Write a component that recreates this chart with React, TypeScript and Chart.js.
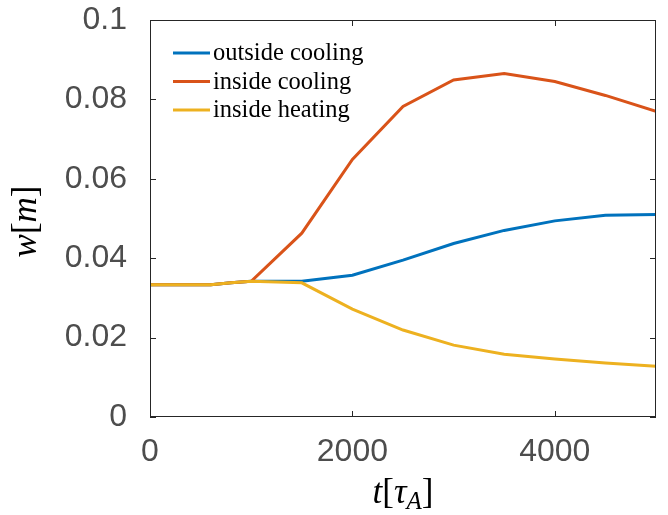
import React, { useEffect, useRef } from "react";
import { Chart, registerables } from "chart.js";

Chart.register(...registerables);

// ---- data ----
const tValues = [0, 600, 800, 1000, 1500, 2000, 2500, 3000, 3500, 4000, 4500, 5000];
const outsideCooling = [0.0333, 0.0333, 0.0338, 0.0342, 0.0342, 0.0357, 0.0395, 0.0437, 0.047, 0.0494, 0.0508, 0.051];
const insideCooling = [0.0333, 0.0333, 0.0338, 0.0342, 0.0463, 0.0649, 0.0782, 0.0849, 0.0865, 0.0845, 0.081, 0.077];
const insideHeating = [0.0333, 0.0333, 0.0338, 0.0342, 0.0338, 0.0272, 0.0219, 0.0181, 0.0158, 0.0146, 0.0136, 0.0128];
const seriesLabels = ["outside cooling", "inside cooling", "inside heating"];
const seriesColors = ["#0072BD", "#D95319", "#EDB120"];
const yTicks = [0, 0.02, 0.04, 0.06, 0.08, 0.1];
const xTicks = [0, 2000, 4000];
const xMin = 0, xMax = 5000, yMin = 0, yMax = 0.1;

const TICK_FONT = "'Liberation Sans', Arial, Helvetica, sans-serif";
const SERIF = "'Liberation Serif', 'Times New Roman', serif";
const AXIS_COLOR = "#262626";
const TICK_COLOR = "#4d4d4d";
const LINE_W = 3;

const decorPlugin = {
  id: "decor",
  afterDatasetsDraw(chart: any) {
    const { ctx, chartArea: a, scales } = chart;
    ctx.save();
    ctx.strokeStyle = AXIS_COLOR;
    ctx.lineWidth = 1;
    ctx.strokeRect(a.left + 0.5, a.top + 0.5, a.right - a.left - 1, a.bottom - a.top - 1);
    const tl = 6;
    ctx.beginPath();
    for (const v of yTicks) {
      const py = Math.round(scales.y.getPixelForValue(v)) + 0.5;
      ctx.moveTo(a.left, py); ctx.lineTo(a.left + tl, py);
      ctx.moveTo(a.right, py); ctx.lineTo(a.right - tl, py);
    }
    for (const v of xTicks) {
      const px = Math.round(scales.x.getPixelForValue(v)) + 0.5;
      ctx.moveTo(px, a.bottom); ctx.lineTo(px, a.bottom - tl);
      ctx.moveTo(px, a.top); ctx.lineTo(px, a.top + tl);
    }
    ctx.stroke();
    ctx.restore();
  },
  afterDraw(chart: any) {
    const { ctx, chartArea: a } = chart;
    ctx.save();
    // legend
    const lx = a.left + 23, lw = 37, tx = a.left + 63;
    const rows = [53, 81.5, 110];
    ctx.font = `24.5px ${SERIF}`;
    ctx.textBaseline = "middle";
    ctx.fillStyle = "#000";
    seriesLabels.forEach((lab, i) => {
      ctx.strokeStyle = seriesColors[i];
      ctx.lineWidth = LINE_W;
      ctx.beginPath();
      ctx.moveTo(lx, rows[i]);
      ctx.lineTo(lx + lw, rows[i]);
      ctx.stroke();
      ctx.fillText(lab, tx, rows[i] + 1);
    });

    // x axis title: t[τ_A]
    const fs = 35;
    const segs = [
      { t: "t", f: `italic ${fs}px ${SERIF}`, dy: 0 },
      { t: "[", f: `${fs}px ${SERIF}`, dy: 0 },
      { t: "τ", f: `italic ${fs}px ${SERIF}`, dy: 0 },
      { t: "A", f: `italic ${Math.round(fs * 0.7)}px ${SERIF}`, dy: fs * 0.16 },
      { t: "]", f: `${fs}px ${SERIF}`, dy: 0 },
    ];
    let total = 0;
    for (const s of segs) { ctx.font = s.f; total += ctx.measureText(s.t).width; }
    let x = (a.left + a.right) / 2 - total / 2;
    const base = 503;
    ctx.textBaseline = "alphabetic";
    ctx.textAlign = "left";
    ctx.fillStyle = "#000";
    for (const s of segs) {
      ctx.font = s.f;
      ctx.fillText(s.t, x, base + s.dy);
      x += ctx.measureText(s.t).width;
    }

    // y axis title: w[m]
    const ysegs = [
      { t: "w", f: `italic ${fs}px ${SERIF}` },
      { t: "[", f: `${fs}px ${SERIF}` },
      { t: "m", f: `italic ${fs}px ${SERIF}` },
      { t: "]", f: `${fs}px ${SERIF}` },
    ];
    let ytot = 0;
    for (const s of ysegs) { ctx.font = s.f; ytot += ctx.measureText(s.t).width; }
    ctx.translate(36, (a.top + a.bottom) / 2 + 3);
    ctx.rotate(-Math.PI / 2);
    let yx = -ytot / 2;
    for (const s of ysegs) {
      ctx.font = s.f;
      ctx.fillText(s.t, yx, 0);
      yx += ctx.measureText(s.t).width;
    }
    ctx.restore();
  },
};

export default function App() {
  const ref = useRef<HTMLCanvasElement>(null);
  useEffect(() => {
    if (!ref.current) return;
    const mk = (vals: number[]) => tValues.map((t, i) => ({ x: t, y: vals[i] }));
    const allSeries = [outsideCooling, insideCooling, insideHeating];
    const chart = new Chart(ref.current, {
      type: "line",
      data: {
        datasets: allSeries.map((vals, i) => ({
          label: seriesLabels[i],
          data: mk(vals),
          borderColor: seriesColors[i],
          backgroundColor: seriesColors[i],
          borderWidth: LINE_W,
          pointRadius: 0,
          fill: false,
          tension: 0,
          order: 3 - i,
        })),
      },
      options: {
        animation: false,
        responsive: false,
        layout: { padding: { top: 20, right: 12, left: 0, bottom: 0 } },
        plugins: { legend: { display: false }, tooltip: { enabled: false } },
        scales: {
          x: {
            type: "linear",
            min: xMin,
            max: xMax,
            grid: { display: false, drawTicks: false },
            border: { display: false },
            afterBuildTicks: (s: any) => { s.ticks = xTicks.map((v) => ({ value: v })); },
            afterFit: (s: any) => { s.height = 98; s.paddingLeft = 0; s.paddingRight = 0; },
            ticks: {
              autoSkip: false,
              maxRotation: 0,
              padding: 16,
              color: TICK_COLOR,
              font: { family: TICK_FONT, size: 32 },
              callback: (v: any) => String(v),
            },
          },
          y: {
            type: "linear",
            min: yMin,
            max: yMax,
            grid: { display: false, drawTicks: false },
            border: { display: false },
            afterBuildTicks: (s: any) => { s.ticks = yTicks.map((v) => ({ value: v })); },
            afterFit: (s: any) => { s.width = 150; s.paddingTop = 0; s.paddingBottom = 0; },
            ticks: {
              autoSkip: false,
              padding: 23,
              color: TICK_COLOR,
              font: { family: TICK_FONT, size: 32 },
              callback: (v: any) => String(parseFloat(Number(v).toFixed(4))),
            },
          },
        },
      },
      plugins: [decorPlugin],
    });
    return () => chart.destroy();
  }, []);
  return (
    <div style={{ position: "absolute", left: 0, top: 0, width: 668, height: 515, background: "#fff" }}>
      <canvas ref={ref} width={668} height={515} />
    </div>
  );
}
